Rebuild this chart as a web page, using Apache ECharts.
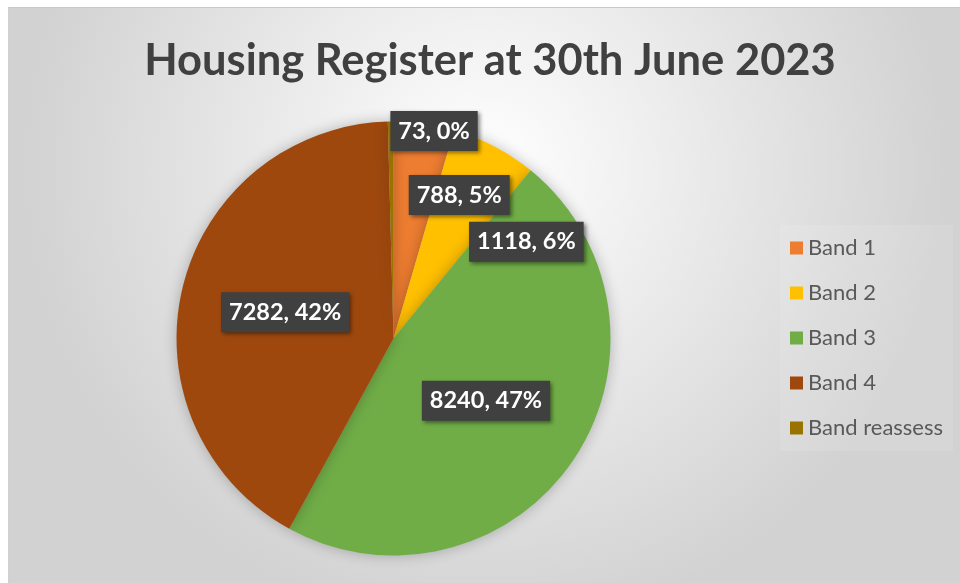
<!DOCTYPE html>
<html>
<head>
<meta charset="utf-8">
<title>Housing Register</title>
<script src="https://cdn.jsdelivr.net/npm/echarts@6/dist/echarts.min.js"></script>
<style>
	html, body { margin:0; padding:0; background:#fff; }
	#main {
		position:absolute; left:8px; top:7px;
		width:952px; height:576px;
		border-top:1px solid #c8c8c8; border-left:1px solid #d0d0d0;
		box-sizing:border-box;
	}
</style>
</head>
<body>
<div id="main"></div>
<script>
// 数据
var bands = ['Band 1', 'Band 2', 'Band 3', 'Band 4', 'Band reassess'];
var counts = [788, 1118, 8240, 7282, 73];
var bandColors = ['#ED7D31', '#FFC000', '#70AD47', '#9E480E', '#997300'];
// 标签偏移 (Excel 自动避让的位置)
var labelShift = [[50, -33], [81, 2], [0, 0], [0, 0], [42, -96]];

var myChart = echarts.init(document.getElementById('main'));

var total = 0;
for (var i = 0; i < counts.length; i++) { total += counts[i]; }

var pieData = [];
for (var i = 0; i < bands.length; i++) {
	pieData.push({
		name: bands[i],
		value: counts[i],
		itemStyle: { color: bandColors[i] }
	});
}

var option = {
	backgroundColor: {
		type: 'radial', x: 0.5, y: 0.28, r: 0.8,
		colorStops: [
			{ offset: 0, color: '#ffffff' },
			{ offset: 1, color: '#d2d2d2' }
		]
	},
	title: {
		text: 'Housing Register at 30th June 2023',
		left: 476,
		textAlign: 'center',
		top: 23,
		textStyle: {
			fontFamily: 'Lato',
			fontWeight: 'bold',
			fontSize: 43.5,
			lineHeight: 50,
			color: '#404040'
		}
	},
	legend: {
		orient: 'vertical',
		left: 771,
		top: 217,
		padding: [12, 10],
		backgroundColor: 'rgba(255,255,255,0.1)',
		itemWidth: 13,
		itemHeight: 13,
		itemGap: 23,
		icon: 'rect',
		data: bands,
		textStyle: {
			fontFamily: 'Lato',
			fontSize: 22,
			lineHeight: 22,
			color: '#595959'
		}
	},
	series: [{
		type: 'pie',
		center: [384.5, 330.5],
		radius: 217,
		startAngle: 90,
		clockwise: true,
		avoidLabelOverlap: false,
		data: pieData,
		itemStyle: {
			borderWidth: 0,
			shadowBlur: 14,
			shadowColor: 'rgba(0,0,0,0.25)'
		},
		emphasis: { disabled: true },
		label: {
			show: true,
			position: 'inside',
			formatter: function (p) {
				return p.value + ', ' + Math.round(p.value / total * 100) + '%';
			},
			fontFamily: 'Lato',
			fontWeight: 'bold',
			fontSize: 23.5,
			lineHeight: 28,
			color: '#ffffff',
			backgroundColor: '#404040',
			padding: [6, 8],
			shadowBlur: 4,
			shadowOffsetX: 2,
			shadowOffsetY: 2,
			shadowColor: 'rgba(0,0,0,0.45)'
		},
		labelLine: { show: false },
		labelLayout: function (params) {
			var s = labelShift[params.dataIndex];
			return { dx: s[0], dy: s[1] };
		}
	}]
};

myChart.setOption(option);
</script>
</body>
</html>
